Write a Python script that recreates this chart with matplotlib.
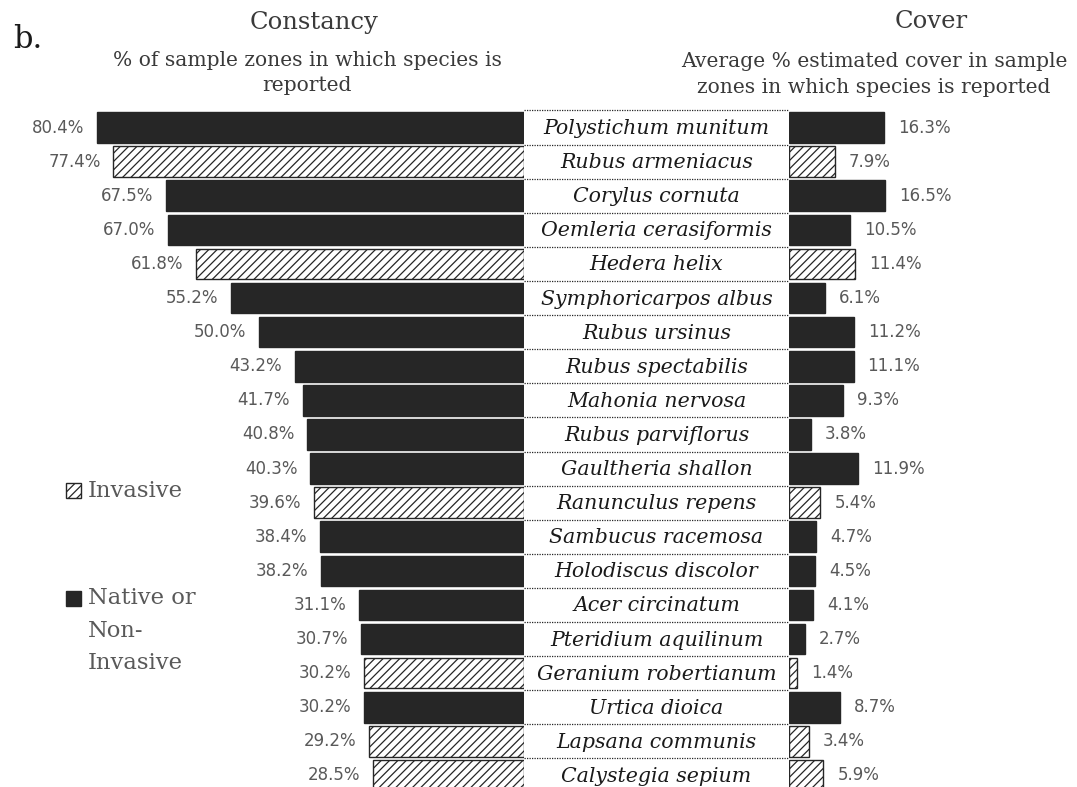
import matplotlib
matplotlib.use("Agg")
import matplotlib.pyplot as plt
from matplotlib.patches import Rectangle

# data
species = ["Polystichum munitum", "Rubus armeniacus", "Corylus cornuta",
           "Oemleria cerasiformis", "Hedera helix", "Symphoricarpos albus",
           "Rubus ursinus", "Rubus spectabilis", "Mahonia nervosa",
           "Rubus parviflorus", "Gaultheria shallon", "Ranunculus repens",
           "Sambucus racemosa", "Holodiscus discolor", "Acer circinatum",
           "Pteridium aquilinum", "Geranium robertianum", "Urtica dioica",
           "Lapsana communis", "Calystegia sepium"]
constancy = [80.4, 77.4, 67.5, 67.0, 61.8, 55.2, 50.0, 43.2, 41.7, 40.8,
             40.3, 39.6, 38.4, 38.2, 31.1, 30.7, 30.2, 30.2, 29.2, 28.5]
cover = [16.3, 7.9, 16.5, 10.5, 11.4, 6.1, 11.2, 11.1, 9.3, 3.8,
         11.9, 5.4, 4.7, 4.5, 4.1, 2.7, 1.4, 8.7, 3.4, 5.9]
invasive = [False, True, False, False, True, False, False, False, False, False,
            False, True, False, False, False, False, True, False, True, True]

W, H = 1077, 787
dark = "#262626"
gray = "#595959"
title_col = "#3a3a3a"
serif = "DejaVu Serif"
plt.rcParams["hatch.linewidth"] = 0.9
plt.rcParams["hatch.color"] = dark

fig = plt.figure(figsize=(W / 100, H / 100), dpi=100)

def px_axes(x0, x1, y_top, y_bot):
    return fig.add_axes([x0 / W, 1 - y_bot / H, (x1 - x0) / W, (y_bot - y_top) / H])

top, bot = 110.5, 787
pitch = 34.1
ymax = -0.5 + (bot - top) / pitch

axL = px_axes(0, 524, top, bot)
axC = px_axes(524, 789, top, bot)
axR = px_axes(789, W, top, bot)

rows = list(range(len(species)))
for ax in (axL, axC, axR):
    ax.set_ylim(ymax, -0.5)
    ax.axis("off")

axL.set_xlim(524 / 5.31, 0)
axR.set_xlim(0, (W - 789) / 5.83)
axC.set_xlim(0, 1)

def style(bars):
    for b, inv in zip(bars, invasive):
        if inv:
            b.set_facecolor("white")
            b.set_hatch("////")
            b.set_edgecolor(dark)
            b.set_linewidth(1.0)
        else:
            b.set_facecolor(dark)
            b.set_edgecolor(dark)

style(axL.barh(rows, constancy, height=0.9))
style(axR.barh(rows, cover, height=0.9))

for i, v in enumerate(constancy):
    axL.annotate(f"{v:.1f}%", (v, i), xytext=(-9, 0), textcoords="offset points",
                 ha="right", va="center", fontsize=12, color=gray,
                 family="DejaVu Sans")
for i, v in enumerate(cover):
    axR.annotate(f"{v:.1f}%", (v, i), xytext=(10, 0), textcoords="offset points",
                 ha="left", va="center", fontsize=12, color=gray,
                 family="DejaVu Sans")

# centre label column with dotted separators
for i, name in enumerate(species):
    axC.text(0.5, i + 0.03, name, ha="center", va="center", fontsize=14.8,
             style="italic", family=serif, color="#1a1a1a")
for i in range(len(species)):
    axC.plot([0, 1], [i - 0.5, i - 0.5], color=dark, lw=0.9, ls=(0, (1, 1)),
             clip_on=False)

# titles
fig.text(13 / W, 1 - 40 / H, "b.", fontsize=22, color="#1a1a1a",
         family=serif, va="center")
fig.text(314 / W, 1 - 22 / H, "Constancy", fontsize=17.5, color=title_col,
         family=serif, ha="center", va="center")
fig.text(307 / W, 1 - 73 / H, "% of sample zones in which species is\nreported",
         fontsize=14.6, color=title_col, family=serif, ha="center", va="center",
         linespacing=1.45)
fig.text(931 / W, 1 - 22 / H, "Cover", fontsize=17.5, color=title_col,
         family=serif, ha="center", va="center")
fig.text(874 / W, 1 - 74.5 / H,
         "Average % estimated cover in sample\nzones in which species is reported",
         fontsize=14.6, color=title_col, family=serif, ha="center", va="center",
         linespacing=1.45)

# legend
leg = fig.add_axes([0, 0, 1, 1])
leg.set_xlim(0, W)
leg.set_ylim(H, 0)
leg.axis("off")
leg.add_patch(Rectangle((66, 483), 15, 15, facecolor="white", edgecolor=dark,
                        hatch="////", lw=1.0))
leg.add_patch(Rectangle((66, 591), 15, 15, facecolor=dark, edgecolor=dark))
leg.text(88, 491, "Invasive", fontsize=16.3, color=gray, family=serif, va="center")
leg.text(88, 598, "Native or", fontsize=16.3, color=gray, family=serif, va="center")
leg.text(88, 631, "Non-", fontsize=16.3, color=gray, family=serif, va="center")
leg.text(88, 663, "Invasive", fontsize=16.3, color=gray, family=serif, va="center")

fig.savefig("out.png", dpi=100)
